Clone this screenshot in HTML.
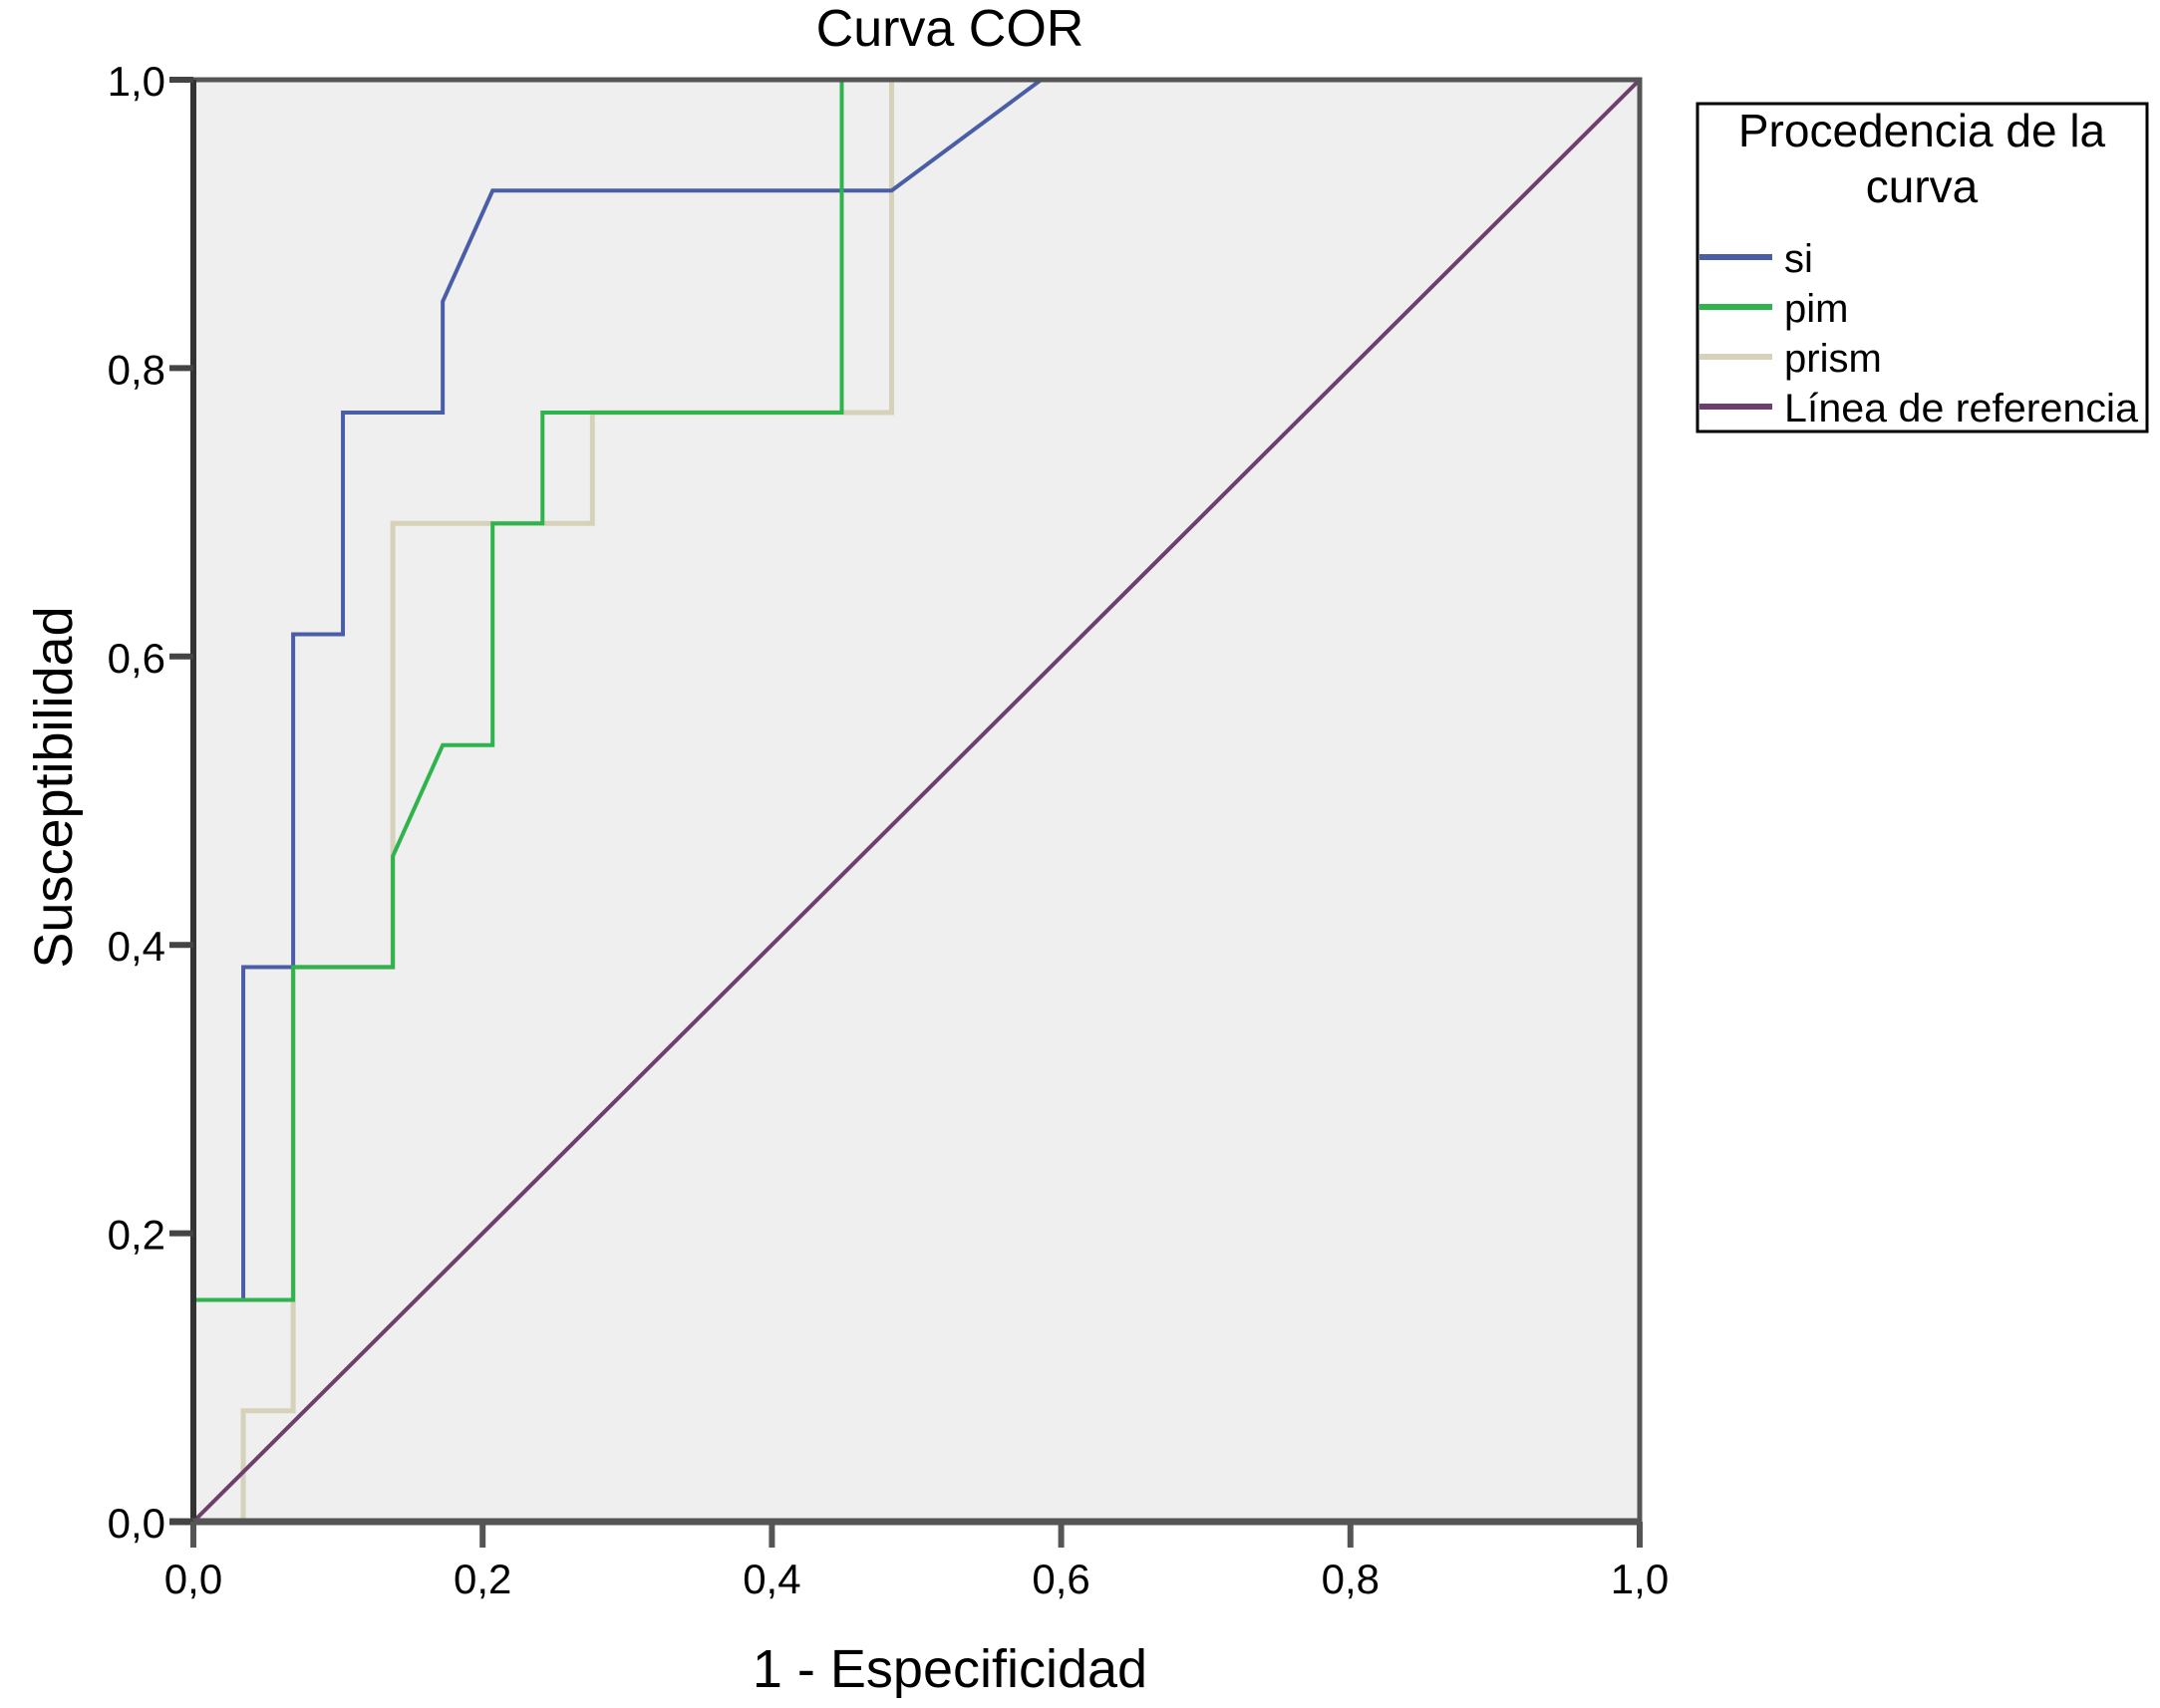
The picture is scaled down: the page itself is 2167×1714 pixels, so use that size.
<!DOCTYPE html>
<html><head><meta charset="utf-8"><style>
html,body{margin:0;padding:0;background:#fff;}
svg{display:block;font-family:"Liberation Sans",Arial,sans-serif;}
</style></head><body>
<svg id="chart" width="2167" height="1714" viewBox="0 0 2167 1714">
<rect x="194" y="80" width="1451" height="1447" fill="#efefef"/>
<text x="953" y="46" font-size="52" text-anchor="middle">Curva COR</text>
<text x="953" y="1693" font-size="54" text-anchor="middle">1 - Especificidad</text>
<text transform="translate(72,790) rotate(-90)" font-size="54" text-anchor="middle">Susceptibilidad</text>
<g id="series"></g>
<g id="axes"></g>
<g>
<rect x="1703" y="104" width="451" height="329" fill="#fff" stroke="#000" stroke-width="3"/>
<text x="1928" y="147" font-size="46" text-anchor="middle">Procedencia de la</text>
<text x="1928" y="203" font-size="46" text-anchor="middle">curva</text>
<g id="legend-entries"></g>
</g>
</svg>
<script>
const categories = ["si","pim","prism","Línea de referencia"];
const colors = ["#4a5ea8","#2fb34c","#d5d2b9","#6e3f6e"];
const siX = [0,0,0.0345,0.0345,0.069,0.069,0.1034,0.1034,0.1724,0.1724,0.2069,0.4828,0.5862,1];
const siY = [0,0.1538,0.1538,0.3846,0.3846,0.6154,0.6154,0.7692,0.7692,0.8462,0.9231,0.9231,1,1];
const pimX = [0,0,0.069,0.069,0.1379,0.1379,0.1724,0.2069,0.2069,0.2414,0.2414,0.4483,0.4483,1];
const pimY = [0,0.1538,0.1538,0.3846,0.3846,0.4615,0.5385,0.5385,0.6923,0.6923,0.7692,0.7692,1,1];
const prismX = [0,0.0345,0.0345,0.069,0.069,0.1379,0.1379,0.2759,0.2759,0.4828,0.4828,1];
const prismY = [0,0,0.0769,0.0769,0.3846,0.3846,0.6923,0.6923,0.7692,0.7692,1,1];
const refX = [0,1];
const refY = [0,1];
const tickValues = [0,0.2,0.4,0.6,0.8,1.0];
const tickLabels = ["0,0","0,2","0,4","0,6","0,8","1,0"];

const NS="http://www.w3.org/2000/svg";
const X0=194,X1=1645,Y0=1527,Y1=80;
const sx=v=>X0+v*(X1-X0);
const sy=v=>Y0-v*(Y0-Y1);
function mk(tag,attrs,parent){const e=document.createElementNS(NS,tag);for(const k in attrs)e.setAttribute(k,attrs[k]);parent.appendChild(e);return e;}
const series=document.getElementById('series');
const data=[[siX,siY],[pimX,pimY],[prismX,prismY],[refX,refY]];
const order=[2,0,1,3];
const slugs=["si","pim","prism","reference"];
order.forEach(i=>{
  const [xs,ys]=data[i];
  const pts=xs.map((x,j)=>sx(x)+','+sy(ys[j])).join(' ');
  const pl=mk('polyline',{points:pts,fill:'none',stroke:colors[i],'stroke-width':i===2?5:4},series);
  
  
});
const axes=document.getElementById('axes');
const frame=mk('rect',{x:X0,y:Y1,width:X1-X0,height:Y0-Y1,fill:'none',stroke:'#555','stroke-width':5},axes);


const la=mk('line',{x1:X0,y1:Y1,x2:X0,y2:Y0,stroke:'#333','stroke-width':6},axes);


const ba=mk('line',{x1:X0-24,y1:Y0,x2:X1,y2:Y0,stroke:'#555','stroke-width':7},axes);


tickValues.forEach((v,i)=>{
  const t1=mk('line',{x1:X0-24,y1:sy(v),x2:X0,y2:sy(v),stroke:'#444','stroke-width':6},axes);
  
  
  const l1=mk('text',{x:X0-28,y:sy(v)+16,'font-size':42,'text-anchor':'end'},axes);
  l1.textContent=tickLabels[i];
  
  
  const t2=mk('line',{x1:sx(v),y1:Y0,x2:sx(v),y2:Y0+26,stroke:'#555','stroke-width':6},axes);
  
  
  const l2=mk('text',{x:sx(v),y:Y0+72,'font-size':42,'text-anchor':'middle'},axes);
  l2.textContent=tickLabels[i];
  
  
});
const le=document.getElementById('legend-entries');
categories.forEach((c,i)=>{
  const y=258+i*50;
  const ln=mk('line',{x1:1705,y1:y,x2:1778,y2:y,stroke:colors[i],'stroke-width':6},le);
  
  
  const tx=mk('text',{x:1790,y:y+15,'font-size':40},le);
  tx.textContent=c;
  if(i===3){tx.setAttribute('textLength','355');tx.setAttribute('lengthAdjust','spacingAndGlyphs');}
  
  
});
</script>
</body></html>
